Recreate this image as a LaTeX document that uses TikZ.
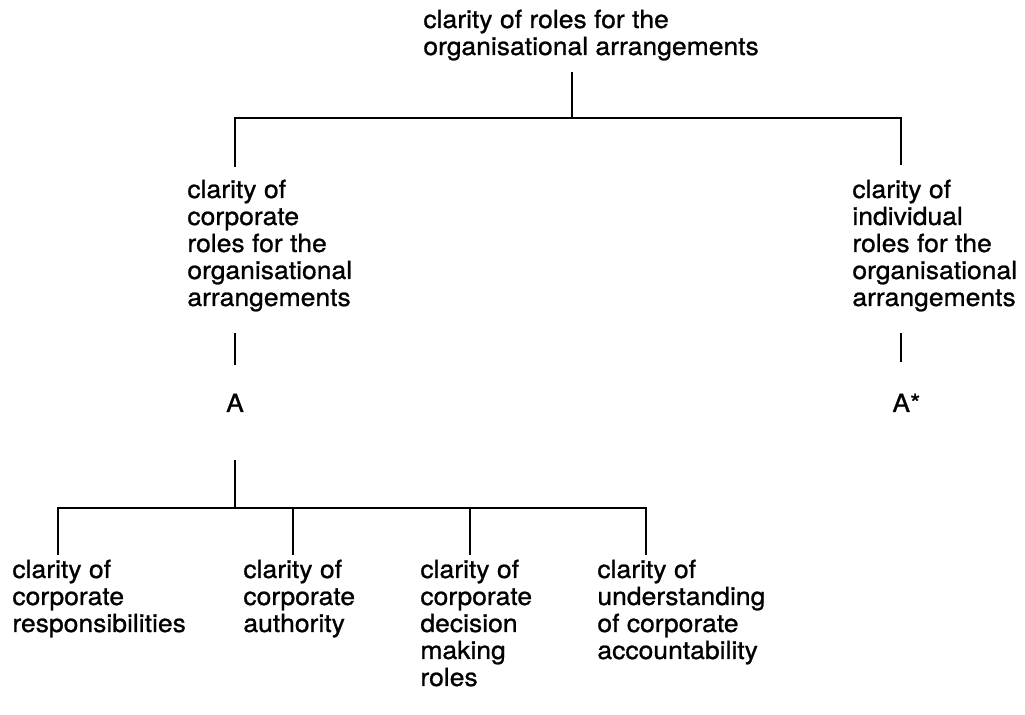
\documentclass[tikz,border=0pt]{standalone}
\usepackage{fontspec}
\setmainfont{TeX Gyre Heros}[FakeStretch=1.06, FakeBold=0.9]
\newcommand{\lblfont}{\fontsize{12.5}{13.5}\selectfont}
\newcommand{\lines}[1]{\begin{tabular}[t]{@{}l@{}}#1\end{tabular}}
\tikzset{
  lbl/.style={inner sep=0pt, anchor=base west, font=\lblfont},
  branch/.style={line width=1.2pt, line join=miter}
}
\begin{document}
\begin{tikzpicture}[x=0.5pt, y=-0.5pt]
\useasboundingbox (0,0) rectangle (1025,715);

% text blocks
\node[lbl] (root) at (423,28) {\lines{clarity of roles for the\\organisational arrangements}};
\node[lbl] (corp) at (187,198) {\lines{clarity of\\corporate\\roles for the\\organisational\\arrangements}};
\node[lbl] (indiv) at (852,198) {\lines{clarity of\\individual\\roles for the\\organisational\\arrangements}};
\node[lbl, anchor=base] (A) at (235,412) {A};
\node[lbl] (Astar) at (892,412) {A*};
\node[lbl] (resp) at (12,578) {\lines{clarity of\\corporate\\responsibilities}};
\node[lbl] (auth) at (243,578) {\lines{clarity of\\corporate\\authority}};
\node[lbl] (dec) at (420,578) {\lines{clarity of\\corporate\\decision\\making\\roles}};
\node[lbl] (acc) at (597,578) {\lines{clarity of\\understanding\\of corporate\\accountability}};

% connector end points
\coordinate (rootStub) at (572,72);
\coordinate (rootJoin) at (572,118);
\coordinate (corpJoin) at (235,118);
\coordinate (indivJoin) at (901,118);
\coordinate (corpIn) at (235,167);
\coordinate (indivIn) at (901,165);
\coordinate (corpOut) at (235,333);
\coordinate (corpEnd) at (235,365);
\coordinate (indivOut) at (901,333);
\coordinate (indivEnd) at (901,362);
\coordinate (AOut) at (235,460);
\coordinate (AJoin) at (235,508);
\coordinate (respJoin) at (58,508);
\coordinate (respIn) at (58,555);
\coordinate (authJoin) at (293,508);
\coordinate (authIn) at (293,555);
\coordinate (decJoin) at (470,508);
\coordinate (decIn) at (470,555);
\coordinate (accJoin) at (646,508);
\coordinate (accIn) at (646,555);

% upper tree
\draw[branch] (rootStub) -- (rootJoin);
\draw[branch] (corpIn) -- (corpJoin) -- (indivJoin) -- (indivIn);
\draw[branch] (corpOut) -- (corpEnd);
\draw[branch] (indivOut) -- (indivEnd);

% lower tree
\draw[branch] (AOut) -- (AJoin);
\draw[branch] (respIn) -- (respJoin) -- (accJoin) -- (accIn);
\draw[branch] (authJoin) -- (authIn);
\draw[branch] (decJoin) -- (decIn);
\end{tikzpicture}
\end{document}
